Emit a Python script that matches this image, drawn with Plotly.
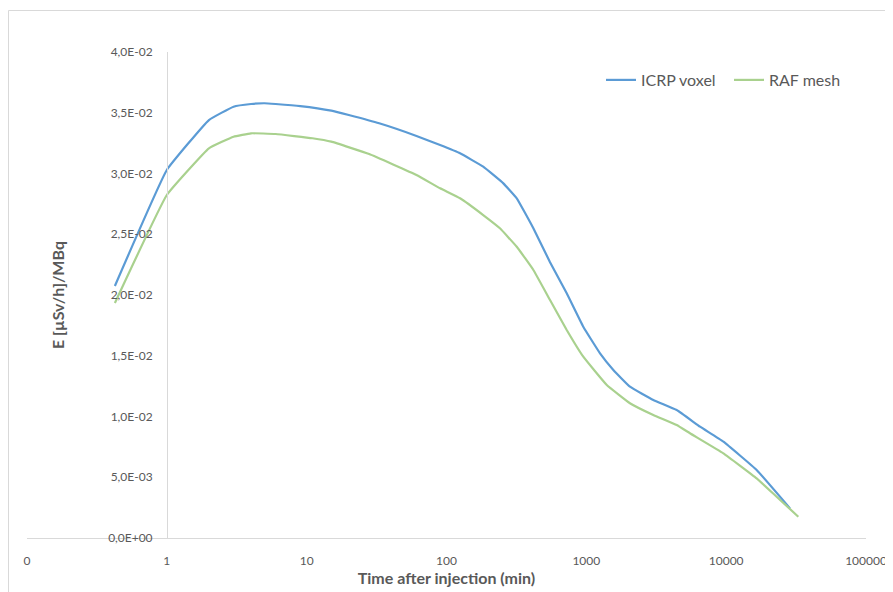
import plotly.graph_objects as go

# Data
icrp_t = [0.425, 1, 2, 3, 4, 5, 6, 9, 15, 20, 33, 61, 90, 125, 183, 255, 318, 418,
          550, 724, 951, 1253, 1560, 2051, 3013, 4427, 6500, 9550, 16520, 28600]
icrp_e = [0.02074, 0.03029, 0.0344, 0.0355, 0.03572, 0.03578, 0.03572, 0.03555, 0.03517,
          0.03481, 0.03413, 0.03309, 0.03234, 0.03166, 0.03056, 0.02919, 0.02796, 0.02550,
          0.02270, 0.02014, 0.01739, 0.0152, 0.01383, 0.01245, 0.01136, 0.01053, 0.00916,
          0.00793, 0.0056, 0.00244]

raf_t = [0.425, 1, 2, 3, 4, 6, 11, 15, 28, 61, 90, 125, 183, 241, 318, 418, 550, 724,
         951, 1400, 2051, 3013, 4427, 5510, 9550, 16520, 22960, 32800]
raf_e = [0.01934, 0.02823, 0.03207, 0.03303, 0.03331, 0.03325, 0.0329, 0.03262, 0.0316,
         0.02988, 0.02878, 0.02796, 0.02658, 0.02549, 0.02397, 0.02206, 0.01959, 0.01712,
         0.01492, 0.01259, 0.01109, 0.01012, 0.0093, 0.00862, 0.00697, 0.00491, 0.0034,
         0.00175]

x_tickvals = [0.1, 1, 10, 100, 1000, 10000, 100000]
x_ticktext = ["0", "1", "10", "100", "1000", "10000", "100000"]
y_tickvals = [0, 0.005, 0.01, 0.015, 0.02, 0.025, 0.03, 0.035, 0.04]
y_ticktext = ["0,0E+00", "5,0E-03", "1,0E-02", "1,5E-02", "2,0E-02",
              "2,5E-02", "3,0E-02", "3,5E-02", "4,0E-02"]

FONT = "Lato"
GREY = "#595959"
AXIS = "#d9d9d9"

fig = go.Figure()
fig.add_trace(go.Scatter(x=icrp_t, y=icrp_e, mode="lines", name="ICRP voxel",
                         line=dict(color="#5B9BD5", width=2.2, shape="spline",
                                   smoothing=0.3)))
fig.add_trace(go.Scatter(x=raf_t, y=raf_e, mode="lines", name="RAF mesh",
                         line=dict(color="#A9D18E", width=2.2, shape="spline",
                                   smoothing=0.3)))

# page body has an 8 px margin, so the figure starts at (8, 8) in the window
OFF = 8
W, H = 893 - OFF, 592 - OFF
px0, px1 = 27 - OFF, 866 - OFF          # plot area left/right (figure px)
py0, py1 = 52 - OFF, 538 - OFF          # plot area top/bottom (figure px)
L, R, T, B = px0, W - px1, py0, H - py1
pw, ph = px1 - px0, py1 - py0


def xp(x):
    return (x - OFF - px0) / pw


def yp(y):
    return (py1 - (y - OFF)) / ph


fig.update_layout(
    width=W, height=H,
    margin=dict(l=L, r=R, t=T, b=B, pad=0, autoexpand=False),
    paper_bgcolor="white", plot_bgcolor="white",
    font=dict(family=FONT, color=GREY, size=12),
    showlegend=True,
    legend=dict(orientation="h", x=xp(601), y=yp(80),
                xanchor="left", yanchor="middle",
                font=dict(size=16, color=GREY, family=FONT),
                bgcolor="rgba(0,0,0,0)", itemwidth=30, entrywidth=83),
    xaxis=dict(type="log", range=[-1, 5], tickvals=x_tickvals, ticktext=x_ticktext,
               showgrid=False, zeroline=False, showline=True, linecolor=AXIS,
               linewidth=1, ticks="", ticklabelstandoff=12, automargin=False,
               tickfont=dict(size=12, color=GREY, family=FONT),
               title=dict(text="<b>Time after injection (min)</b>",
                          font=dict(size=16, color=GREY, family=FONT), standoff=4)),
    yaxis=dict(range=[0, 0.04], tickvals=y_tickvals, ticktext=y_ticktext,
               anchor="free", position=xp(167), automargin=False,
               showgrid=False, zeroline=False, showline=True, linecolor=AXIS,
               linewidth=1, ticks="", ticklabelstandoff=12,
               tickfont=dict(size=12, color=GREY, family=FONT),
               title=dict(text="<b>E [µSv/h]/MBq</b>",
                          font=dict(size=16, color=GREY, family=FONT), standoff=38)),
)

# chart-area border
fig.add_shape(type="rect", xref="paper", yref="paper",
              x0=xp(8.5), x1=xp(896), y0=yp(596), y1=yp(10.5),
              line=dict(color=AXIS, width=1), fillcolor="rgba(0,0,0,0)", layer="below")

fig.write_html("out.html")
